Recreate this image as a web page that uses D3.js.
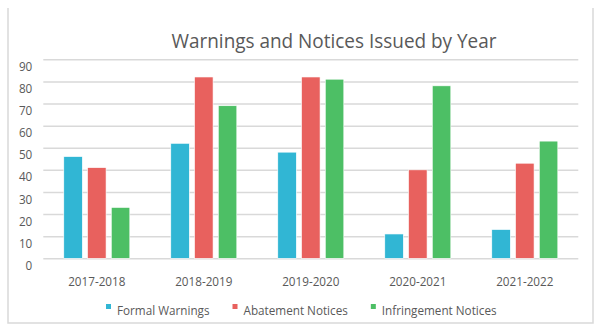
<!DOCTYPE html>
<html><head><meta charset="utf-8">
<script src="https://cdn.jsdelivr.net/npm/d3@7"></script>
<style>html,body{margin:0;padding:0;background:#fff;}svg{display:block;}</style>
</head><body>
<svg id="c" width="600" height="331"></svg>
<script>
const categories = ["2017-2018","2018-2019","2019-2020","2020-2021","2021-2022"];
const seriesNames = ["Formal Warnings","Abatement Notices","Infringement Notices"];
const formalWarnings = [46, 52, 48, 11, 13];
const abatementNotices = [41, 82, 82, 40, 43];
const infringementNotices = [23, 69, 81, 78, 53];
const yTicks = [0,10,20,30,40,50,60,70,80,90];
const colors = ["#31B6D4","#E8615E","#4DBF65"];
const title = "Warnings and Notices Issued by Year";

(function(){
const seriesValues = [formalWarnings, abatementNotices, infringementNotices];
const svg = d3.select("#c");
const font = "'Open Sans', 'Noto Sans', sans-serif";
const textColor = "#595959";
const condense = sel => sel.each(function(){
  const w = this.getComputedTextLength();
  d3.select(this).attr("textLength", w*0.9).attr("lengthAdjust","spacingAndGlyphs");
});

// frame
const frame = svg.append("g").attr("stroke","#d9d9d9").attr("stroke-width",1.5).attr("fill","none");
frame.append("path").attr("d","M8,8 L8,323 L593,323 L593,8");

const pLeft = 43.3, pRight = 578.3, pTop = 59.3, pBottom = 258.3;
const x0 = d3.scaleBand().domain(categories).range([pLeft,pRight]).paddingInner(0.383).paddingOuter(0.1915);
const x1 = d3.scaleBand().domain(seriesNames).range([0,x0.bandwidth()]).paddingInner(0.22);
const y = d3.scaleLinear().domain([0,90]).range([pBottom,pTop]);

// gridlines
const yAxis = d3.axisLeft(y).tickValues(yTicks).tickSize(-(pRight-pLeft)).tickFormat(d3.format("d"));
const gy = svg.append("g").attr("transform",`translate(${pLeft},0)`).call(yAxis);
gy.select(".domain").remove();
gy.selectAll(".tick line").attr("stroke","#d9d9d9").attr("stroke-width",1.5);
gy.selectAll(".tick text").attr("x",-11).attr("dy","0.85em").attr("fill",textColor)
  .style("font-family",font).style("font-size","13px").call(condense);

// bars
const groups = svg.append("g").selectAll("g").data(categories).join("g")
  .attr("transform",d=>`translate(${x0(d)},0)`);
groups.selectAll("rect").data((c,i)=>seriesNames.map((s,j)=>({s,j,v:seriesValues[j][i]})))
  .join("rect")
  .attr("x",d=>x1(d.s)).attr("width",x1.bandwidth())
  .attr("y",d=>y(d.v)).attr("height",d=>y(0)-y(d.v))
  .attr("fill",d=>colors[d.j]).attr("stroke","#fff").attr("stroke-width",0.6);

// x axis labels
const xAxis = d3.axisBottom(x0).tickSize(0).tickPadding(0);
const gx = svg.append("g").attr("transform",`translate(0,${pBottom})`).call(xAxis);
gx.select(".domain").remove();
gx.selectAll(".tick text").attr("y",27.5).attr("dy",0).attr("fill",textColor)
  .style("font-family",font).style("font-size","13px").call(condense);

// title
svg.append("text").attr("x",334).attr("y",48).attr("text-anchor","middle")
  .attr("fill",textColor).style("font-family",font).style("font-size","20.5px")
  .attr("textLength",325).attr("lengthAdjust","spacingAndGlyphs").text(title);

// legend
const lg = svg.append("g");
let lx = 106;
seriesNames.forEach((s,j)=>{
  lg.append("rect").attr("x",lx).attr("y",304).attr("width",5).attr("height",5).attr("fill",colors[j]);
  const t = lg.append("text").attr("x",lx+11).attr("y",315).attr("fill",textColor)
    .style("font-family",font).style("font-size","13px").text(s).call(condense);
  const w = t.node().getComputedTextLength();
  lx += 11 + w + 23;
});
})();
</script>
</body></html>
